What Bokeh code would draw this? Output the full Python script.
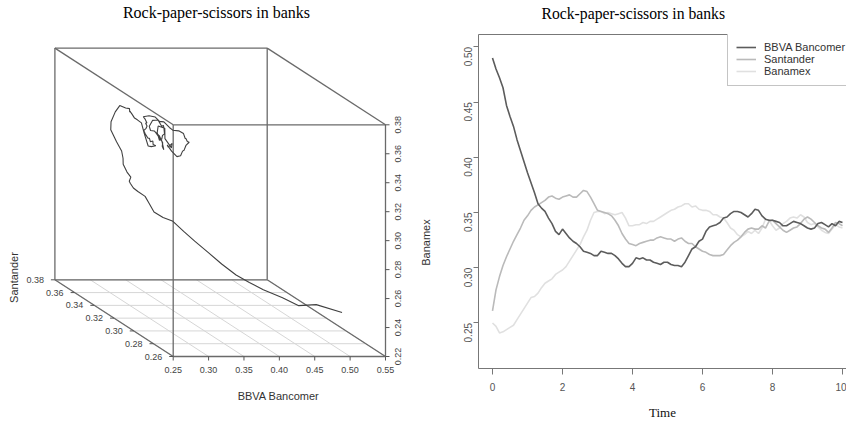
import numpy as np
from itertools import product
from bokeh.plotting import figure
from bokeh.layouts import row
from bokeh.models import (Range1d, FixedTicker, NumeralTickFormatter, LinearAxis,
                          Legend, LegendItem, Label)
from bokeh.embed import file_html
from bokeh.resources import INLINE

# ---------------- data ----------------
title = "Rock-paper-scissors in banks"
time = [i / 10 for i in range(101)]

bbva = [0.490, 0.480, 0.472, 0.463, 0.447, 0.437, 0.428, 0.416, 0.406, 0.396,
        0.386, 0.377, 0.368, 0.358, 0.354, 0.351, 0.345, 0.340, 0.333, 0.330,
        0.335, 0.331, 0.327, 0.324, 0.322, 0.319, 0.315, 0.314, 0.313, 0.311,
        0.311, 0.315, 0.314, 0.313, 0.313, 0.311, 0.308, 0.304, 0.301, 0.301,
        0.304, 0.309, 0.308, 0.309, 0.307, 0.307, 0.305, 0.304, 0.303, 0.305,
        0.305, 0.303, 0.302, 0.302, 0.301, 0.305, 0.311, 0.317, 0.319, 0.324,
        0.326, 0.333, 0.337, 0.338, 0.339, 0.341, 0.345, 0.346, 0.349, 0.351,
        0.351, 0.350, 0.348, 0.346, 0.349, 0.353, 0.352, 0.347, 0.344, 0.343,
        0.343, 0.342, 0.341, 0.338, 0.338, 0.340, 0.342, 0.341, 0.340, 0.338,
        0.336, 0.335, 0.336, 0.340, 0.341, 0.339, 0.337, 0.340, 0.338, 0.342,
        0.341]

santander = [0.261, 0.280, 0.292, 0.302, 0.310, 0.317, 0.324, 0.330, 0.336, 0.343,
             0.347, 0.352, 0.355, 0.357, 0.359, 0.361, 0.364, 0.365, 0.363, 0.362,
             0.364, 0.365, 0.366, 0.364, 0.364, 0.367, 0.370, 0.369, 0.364, 0.358,
             0.352, 0.351, 0.350, 0.349, 0.347, 0.343, 0.338, 0.331, 0.326, 0.322,
             0.321, 0.320, 0.322, 0.323, 0.324, 0.325, 0.325, 0.327, 0.328, 0.327,
             0.326, 0.326, 0.324, 0.326, 0.327, 0.324, 0.322, 0.322, 0.319, 0.317,
             0.315, 0.314, 0.312, 0.311, 0.311, 0.311, 0.312, 0.316, 0.320, 0.323,
             0.325, 0.328, 0.332, 0.335, 0.336, 0.335, 0.335, 0.338, 0.336, 0.342,
             0.343, 0.340, 0.337, 0.334, 0.332, 0.334, 0.336, 0.337, 0.340, 0.344,
             0.346, 0.344, 0.341, 0.338, 0.336, 0.335, 0.332, 0.336, 0.341, 0.340,
             0.338]

banamex = [0.250, 0.247, 0.241, 0.242, 0.244, 0.246, 0.248, 0.253, 0.258, 0.263,
           0.268, 0.273, 0.274, 0.277, 0.282, 0.286, 0.288, 0.290, 0.294, 0.296,
           0.298, 0.301, 0.306, 0.311, 0.316, 0.321, 0.328, 0.334, 0.343, 0.350,
           0.351, 0.351, 0.349, 0.350, 0.349, 0.348, 0.349, 0.350, 0.345, 0.338,
           0.338, 0.339, 0.339, 0.341, 0.340, 0.342, 0.342, 0.344, 0.346, 0.348,
           0.350, 0.352, 0.353, 0.355, 0.356, 0.358, 0.358, 0.355, 0.356, 0.353,
           0.352, 0.352, 0.351, 0.348, 0.348, 0.346, 0.345, 0.341, 0.336, 0.334,
           0.330, 0.328, 0.330, 0.333, 0.331, 0.334, 0.331, 0.336, 0.344, 0.343,
           0.338, 0.334, 0.336, 0.340, 0.342, 0.345, 0.346, 0.345, 0.348, 0.346,
           0.341, 0.339, 0.340, 0.337, 0.334, 0.332, 0.331, 0.335, 0.339, 0.337,
           0.336]

bbva_ticks = [0.25, 0.30, 0.35, 0.40, 0.45, 0.50, 0.55]
santander_ticks = [0.26, 0.28, 0.30, 0.32, 0.34, 0.36, 0.38]
banamex_ticks = [0.22, 0.24, 0.26, 0.28, 0.30, 0.32, 0.34, 0.36, 0.38]
time_ticks = [0, 2, 4, 6, 8, 10]
share_ticks = [0.25, 0.30, 0.35, 0.40, 0.45, 0.50]

SANS = "Liberation Sans"
SERIF = "Liberation Serif"
H = 424

# ---------------- left: 3-D scatterplot (projected) ----------------
WL = 440
left = figure(width=WL, height=H, x_range=Range1d(0, WL), y_range=Range1d(0, H),
              output_backend="svg", toolbar_location=None, min_border=0,
              frame_align=False, x_axis_type=None, y_axis_type=None)
left.title = None
left.outline_line_color = None
left.xgrid.visible = False
left.ygrid.visible = False

xlo, xhi = bbva_ticks[0], bbva_ticks[-1]
ylo, yhi = santander_ticks[0], santander_ticks[-1]
zlo, zhi = banamex_ticks[0], banamex_ticks[-1]
# projection parameters (screen px, y measured upward from canvas bottom)
OX, OY = 172.7, 68.0       # front-bottom-left corner
AX, HZ = 212.3, 231.7      # front face width / height
DX, DY = 118.3, 76.7       # depth offset


def proj(b, s, z):
    b, s, z = np.asarray(b, float), np.asarray(s, float), np.asarray(z, float)
    u = (b - xlo) / (xhi - xlo)
    v = (s - ylo) / (yhi - ylo)
    w = (z - zlo) / (zhi - zlo)
    return OX + u * AX - v * DX, OY + w * HZ + v * DY


def add_text(fig, xs, ys, texts, size, font=SANS, align="center", angle=0.0,
             color="#444444"):
    for x, y, t in zip(xs, ys, texts):
        fig.add_layout(Label(x=float(x), y=float(y), text=t, text_font=font,
                             text_font_size=size, text_align=align,
                             text_baseline="middle", angle=angle,
                             text_color=color))


# floor grid
gx, gy = [], []
for s in santander_ticks:
    X, Y = proj([xlo, xhi], [s, s], [zlo, zlo])
    gx.append(list(X)); gy.append(list(Y))
for b in bbva_ticks:
    X, Y = proj([b, b], [ylo, yhi], [zlo, zlo])
    gx.append(list(X)); gy.append(list(Y))
left.multi_line(gx, gy, line_color="#d6d6d6", line_width=1)

# box edges
corners = list(product([xlo, xhi], [ylo, yhi], [zlo, zhi]))
ex, ey = [], []
for i, a in enumerate(corners):
    for c in corners[i + 1:]:
        if sum(p != q for p, q in zip(a, c)) == 1:
            X, Y = proj([a[0], c[0]], [a[1], c[1]], [a[2], c[2]])
            ex.append(list(X)); ey.append(list(Y))
left.multi_line(ex, ey, line_color="#6a6a6a", line_width=1.3)

# trajectory
TX, TY = proj(bbva, santander, banamex)
left.line(TX, TY, line_color="#404040", line_width=1.1)

# x axis (BBVA) ticks and labels
X, Y = proj(bbva_ticks, [ylo] * len(bbva_ticks), [zlo] * len(bbva_ticks))
left.segment(X, Y, X, Y - 4, line_color="#555555", line_width=1)
add_text(left, X, Y - 13, [f"{v:.2f}" for v in bbva_ticks], "9px")

# y axis (Santander) ticks and labels
X, Y = proj([xlo] * len(santander_ticks), santander_ticks, [zlo] * len(santander_ticks))
left.segment(X, Y, X - 4, Y, line_color="#555555", line_width=1)
add_text(left, X - 11, Y, [f"{v:.2f}" for v in santander_ticks], "9px", align="right")

# z axis (Banamex) ticks and labels
X, Y = proj([xhi] * len(banamex_ticks), [ylo] * len(banamex_ticks), banamex_ticks)
left.segment(X, Y, X + 4, Y, line_color="#555555", line_width=1)
add_text(left, X + 12, Y, [f"{v:.2f}" for v in banamex_ticks], "9px", angle=np.pi / 2)

# axis titles and main title
add_text(left, [278], [H - 395], ["BBVA Bancomer"], "11px", color="#333333")
add_text(left, [13], [H - 277], ["Santander"], "11px", angle=np.pi / 2, color="#333333")
add_text(left, [425], [H - 242], ["Banamex"], "11px", angle=np.pi / 2, color="#333333")
add_text(left, [216], [H - 12], [title], "16px", font=SERIF, color="#000000")

# ---------------- right: time series ----------------
WR = 846 - WL
PX_PER_T = 35.0
frame_w = WR - 38
right = figure(width=WR, height=H,
               x_range=Range1d(-0.4, -0.4 + frame_w / PX_PER_T),
               y_range=Range1d(0.2088, 0.5112),
               output_backend="svg", toolbar_location=None, frame_align=False,
               min_border_left=38, min_border_right=0, min_border_top=34,
               min_border_bottom=56)
right.outline_line_color = None
right.xgrid.visible = False
right.ygrid.visible = False

rb = right.line(time, banamex, line_color="#e0e0e0", line_width=1.6)
rs = right.line(time, santander, line_color="#bababa", line_width=1.6)
ra = right.line(time, bbva, line_color="#5c5c5c", line_width=1.6)

for ax in (right.xaxis[0], right.yaxis[0]):
    ax.axis_line_color = "#777777"
    ax.major_tick_line_color = "#777777"
    ax.minor_tick_line_color = None
    ax.major_tick_in = 0
    ax.major_label_text_font = SANS
    ax.major_label_text_font_size = "10px"
    ax.major_label_text_color = "#555555"

right.xaxis.ticker = FixedTicker(ticks=time_ticks)
right.xaxis.formatter = NumeralTickFormatter(format="0")
right.xaxis.major_tick_out = 6
right.xaxis.major_label_standoff = 8
right.xaxis.axis_label = "Time"
right.xaxis.axis_label_text_font = SERIF
right.xaxis.axis_label_text_font_style = "normal"
right.xaxis.axis_label_text_font_size = "13px"
right.xaxis.axis_label_text_color = "#111111"
right.xaxis.axis_label_standoff = 11

right.yaxis.ticker = FixedTicker(ticks=share_ticks)
right.yaxis.formatter = NumeralTickFormatter(format="0.00")
right.yaxis.major_tick_out = 5
right.yaxis.major_label_standoff = 5
right.yaxis.major_label_orientation = np.pi / 2

# top box line; one white (invisible) tick gives the panel room below the title
top_axis = LinearAxis(ticker=FixedTicker(ticks=[time_ticks[-1]]),
                      axis_line_color="#777777",
                      major_tick_line_color="white", minor_tick_line_color=None,
                      major_tick_out=12, major_tick_in=0, major_label_standoff=0,
                      major_label_overrides={time_ticks[-1]: ""},
                      major_label_text_font_size="1px")
right.add_layout(top_axis, "above")

right.title.text = title
right.title.text_font = SERIF
right.title.text_font_size = "15.7px"
right.title.text_font_style = "normal"
right.title.text_color = "#000000"
right.title.align = "left"
right.title.offset = 63
right.title.standoff = 2

legend = Legend(items=[LegendItem(label="BBVA Bancomer", renderers=[ra]),
                       LegendItem(label="Santander", renderers=[rs]),
                       LegendItem(label="Banamex", renderers=[rb])],
                location=(249, 282), margin=0, padding=8, spacing=0,
                label_standoff=8, glyph_width=20, glyph_height=12, label_height=12,
                label_text_font=SANS, label_text_font_size="11px",
                label_text_color="#333333", border_line_color="#8a8a8a",
                border_line_width=1.2, background_fill_color="white",
                background_fill_alpha=1)
right.add_layout(legend)

layout = row(left, right, spacing=0)
open("out.html", "w").write(file_html(layout, INLINE))
